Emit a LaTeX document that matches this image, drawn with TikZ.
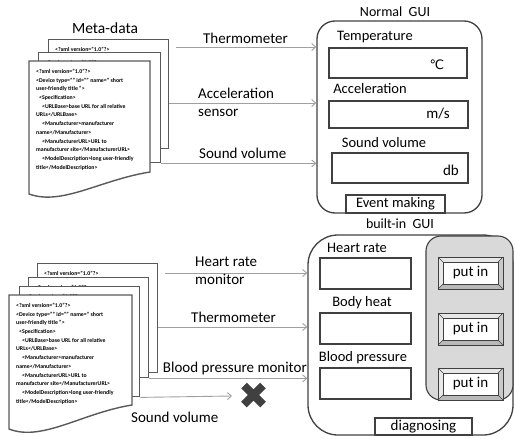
\documentclass[tikz,border=0pt]{standalone}
\usepackage{fontspec}
\setmainfont{Carlito}
\newfontfamily\symfam{DejaVu Sans}
\usetikzlibrary{arrows.meta,calc}

\definecolor{edge}{HTML}{404040}
\definecolor{docedge}{HTML}{595959}
\definecolor{wirec}{HTML}{A0A0A0}
\definecolor{panel}{HTML}{D9D9D9}
\definecolor{crossc}{HTML}{404040}

% XML sample shown on every meta-data page
\newcommand\xmlbody{<?xml version="1.0"?>\\<Device type="" id="" name=" short\\user-friendly title ">\\\hspace*{3pt}<Specification>\\\hspace*{6pt}<URLBase>base URL for all relative\\URLs</URLBase>\\\hspace*{6pt}<Manufacturer>manufacturer\\name</Manufacturer>\\\hspace*{6pt}<ManufacturerURL>URL to\\manufacturer site</ManufacturerURL>\\\hspace*{6pt}<ModelDescription>long user-friendly\\title</ModelDescription>}

\tikzset{
  lbl/.style={font=\fontsize{15}{18}\selectfont, inner sep=0pt},
  flbl/.style={font=\fontsize{14.5}{17}\selectfont, inner sep=0pt},
  field/.style={draw=edge, line width=1.1pt, fill=white, inner sep=0pt},
  guibox/.style={draw=edge, line width=1.3pt},
  wire/.style={draw=wirec, line width=0.9pt, -{Straight Barb[length=4pt,width=7pt]}},
  page/.style={draw=docedge, line width=1.4pt, fill=white},
  xml/.style={font=\fontsize{5.8}{8.7}\selectfont\bfseries, align=left, anchor=north west, inner sep=0pt},
  btnface/.style={draw=edge, line width=0.8pt, fill=white, minimum width=55pt, minimum height=22pt, inner sep=0pt, font=\fontsize{15}{18}\selectfont},
}

\begin{document}
\begin{tikzpicture}[x=1pt,y=-1pt]
\useasboundingbox (0,0) rectangle (515,439);

% ---------- upper stack of meta-data pages ----------
\node[lbl, font=\fontsize{15.5}{18}\selectfont] (metatitle) at (105,28) {Meta-data};
\node[page, anchor=north west, minimum width=120pt, minimum height=109pt] (tb1) at (48,39) {};
\node[xml] (tx1) at (55,47.5) {\xmlbody};
\node[page, anchor=north west, minimum width=122pt, minimum height=110pt] (tb2) at (38,52) {};
\node[xml] (tx2) at (45,60) {\xmlbody};
\draw[page] (29,61) -- (150,61) -- (150,172)
  .. controls (100,180) and (62,206) .. (29,194) -- cycle;
\node[xml] (tx3) at (36,69) {\xmlbody};

% ---------- normal GUI ----------
\node[lbl, font=\fontsize{14}{17}\selectfont] (guititle) at (395,12) {Normal\ \ GUI};
\node[guibox, rounded corners=18pt, minimum width=165pt, minimum height=192pt] (tgui) at (399.5,117) {};
\node[flbl] (ltemp) at (375,37) {Temperature};
\node[field, minimum width=138pt, minimum height=30pt] (ftemp) at (398,63) {};
\node[inner sep=0pt, font=\symfam\fontsize{13}{15}\selectfont] (utemp) at (437,65) {℃};
\node[flbl] (lacc) at (370,89) {Acceleration};
\node[field, minimum width=139pt, minimum height=27pt] (facc) at (398.5,114.5) {};
\node[lbl] (uacc) at (438,114) {m/s};
\node[flbl] (lsnd) at (384,143) {Sound volume};
\node[field, minimum width=136pt, minimum height=30pt] (fsnd) at (400,168) {};
\node[lbl] (usnd) at (451,170) {db};
\node[field, minimum width=99pt, minimum height=18pt, font=\fontsize{14.5}{17}\selectfont] (event) at (395.5,204) {Event making};

% sensor feeds into the normal GUI
\coordinate (sA) at (176,47);
\coordinate (sB) at (tb1.east |- 0,103);
\coordinate (sC) at (tb2.south east);
\coordinate (eA) at (tgui.west |- sA);
\coordinate (eB) at (tgui.west |- sB);
\coordinate (eC) at (tgui.west |- sC);
\draw[wire] (sA) -- (eA);
\draw[wire] (sB) -- (eB);
\draw[wire] (sC) -- (eC);
\node[lbl] (wA) at (245.5,38) {Thermometer};
\node[lbl, anchor=west, align=left, font=\fontsize{15}{18}\selectfont] (wB) at (198,102) {Acceleration\\sensor};
\node[lbl, anchor=west] (wC) at (199,153) {Sound volume};

% ---------- lower stack of meta-data pages ----------
\node[page, anchor=north west, minimum width=120pt, minimum height=109pt] (bb1) at (37,263) {};
\node[xml] (bx1) at (44,271.5) {\xmlbody};
\node[page, anchor=north west, minimum width=120pt, minimum height=100pt] (bb2) at (28,277) {};
\node[xml] (bx2) at (35,285) {\xmlbody};
\node[page, anchor=north west, minimum width=120pt, minimum height=110pt] (bb3) at (19,286) {};
\node[xml] (bx3) at (26,294) {\xmlbody};
\draw[page] (9,295) -- (132,295) -- (132,405)
  .. controls (82,413) and (42,442) .. (9,429) -- cycle;
\node[xml] (bx4) at (16,303) {\xmlbody};

% ---------- built-in GUI ----------
\node[lbl, font=\fontsize{14}{17}\selectfont] (bguititle) at (400,224) {built-in\ \ GUI};
\node[guibox, rounded corners=30pt, minimum width=205pt, minimum height=200pt] (bgui) at (410.5,335) {};
\node[draw=edge, line width=1.1pt, fill=panel, rounded corners=15pt, minimum width=87pt, minimum height=164pt] (pnl) at (469.5,318) {};
\node[flbl] (lhr) at (357,248) {Heart rate};
\node[field, minimum width=91pt, minimum height=31pt] (fhr) at (365.5,273.5) {};
\node[flbl] (lbh) at (362,303) {Body heat};
\node[field, minimum width=91pt, minimum height=31pt] (fbh) at (365.5,328.5) {};
\node[flbl] (lbp) at (363,358) {Blood pressure};
\node[field, minimum width=91pt, minimum height=31pt] (fbp) at (365.5,383.5) {};
\node[field, minimum width=97pt, minimum height=17pt, font=\fontsize{15}{18}\selectfont] (diag) at (423.5,426.5) {diagnosing};

% bevelled "put in" buttons
\foreach \c/\n in {273/1,329/2,384/3}{
  \fill[gray!18] (438,\c-16) rectangle (503,\c+16);
  \fill[gray!55] (438,\c+16) -- (503,\c+16) -- (498,\c+11) -- (443,\c+11) -- cycle;
  \fill[gray!42] (503,\c-16) -- (503,\c+16) -- (498,\c+11) -- (498,\c-11) -- cycle;
  \draw[edge, line width=0.5pt] (438,\c-16) -- (443,\c-11) (503,\c-16) -- (498,\c-11)
     (438,\c+16) -- (443,\c+11) (503,\c+16) -- (498,\c+11);
  \draw[edge, line width=1pt] (438,\c-16) rectangle (503,\c+16);
  \node[btnface] (put\n) at (470.5,\c) {put in};
}

% sensor feeds into the built-in GUI
\coordinate (sD) at (165,273);
\coordinate (sE) at (bb1.east |- 0,327);
\coordinate (sF) at (bb2.south east);
\coordinate (sG) at (bb3.south east);
\coordinate (eD) at (bgui.west |- sD);
\coordinate (eE) at (bgui.west |- sE);
\coordinate (eF) at (bgui.west |- sF);
\coordinate (eG) at (232,396);
\draw[wire] (sD) -- (eD);
\draw[wire] (sE) -- (eE);
\draw[wire] (sF) -- (eF);
\draw[wire] (sG) -- (eG);
\node[lbl, anchor=west, align=left] (wD) at (195,271) {Heart rate\\monitor};
\node[lbl, anchor=west] (wE) at (191,317) {Thermometer};
\node[lbl, anchor=east] (wF) at (307,368) {Blood pressure monitor};
\node[lbl, anchor=west] (wG) at (131,417) {Sound volume};

% rejected input mark
\coordinate (nomark) at (253.5,395);
\draw[crossc, line width=8pt] ($(nomark)+(-9.5,-9.5)$) -- ($(nomark)+(9.5,9.5)$)
  ($(nomark)+(9.5,-9.5)$) -- ($(nomark)+(-9.5,9.5)$);
\end{tikzpicture}
\end{document}
